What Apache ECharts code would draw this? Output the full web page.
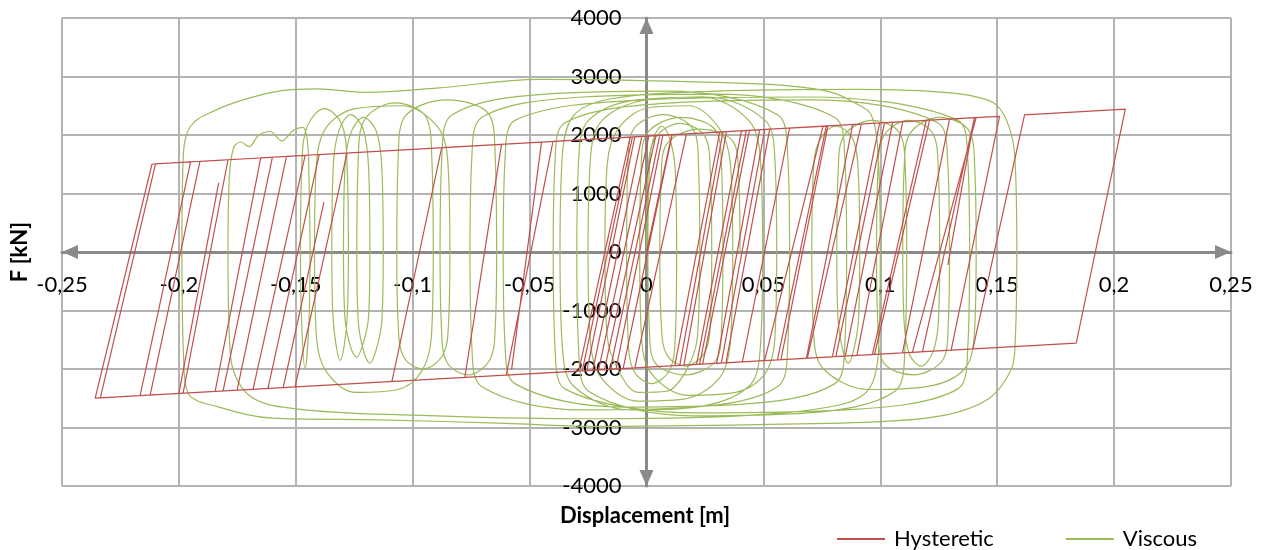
<!DOCTYPE html>
<html>
<head>
<meta charset="utf-8">
<script src="https://cdn.jsdelivr.net/npm/echarts@6/dist/echarts.min.js"></script>
<style>
  html, body { margin: 0; padding: 0; background: #ffffff; }
  #chart { width: 1266px; height: 550px; }
</style>
</head>
<body>
<div id="chart"></div>
<script>
// Axis ranges and tick spacing
const xMin = -0.25, xMax = 0.25, xStep = 0.05;
const yMin = -4000, yMax = 4000, yStep = 1000;

// Legend / series names
const seriesNames = ['Hysteretic', 'Viscous'];

// Hysteretic (bilinear) force-displacement path, [displacement m, force kN]
const hysteretic = [
  [0, 0], [0.0108, 2004],
  [0.0171, 2018], [-0.0050, -1981],
  [-0.0275, -2032], [-0.0060, 1967],
  [0.0110, 2005], [-0.0100, -1992],
  [-0.0255, -2027], [-0.0050, 1969],
  [0.0070, 1996], [-0.0130, -1999],
  [-0.0230, -2022], [-0.0020, 1976],
  [0.0057, 1993], [-0.0155, -2005],
  [-0.0205, -2016], [0.0010, 1982],
  [0.0040, 1989], [-0.0180, -2010],
  [0.0040, 1989],
  [0.0313, 2050], [0.0121, -1943],
  [0.0142, -1938], [0.0327, 2054],
  [0.0342, 2057], [0.0160, -1934],
  [0.0214, -1922], [0.0406, 2071],
  [0.0427, 2076], [0.0227, -1919],
  [0.0240, -1916], [0.0440, 2079],
  [0.0484, 2089], [0.0300, -1903],
  [0.0320, -1898], [0.0506, 2094],
  [0.0527, 2099], [0.0340, -1894],
  [0.0410, -1878], [0.0612, 2118],
  [0.0769, 2153], [0.0560, -1845],
  [0.0505, -1857], [0.0755, 2150],
  [0.0776, 2155], [0.0575, -1841],
  [0.0684, -1817], [0.0882, 2178],
  [0.0919, 2187], [0.0688, -1816],
  [0.0795, -1792], [0.0997, 2204],
  [0.1018, 2209], [0.0810, -1789],
  [0.0850, -1780], [0.1053, 2217],
  [0.1096, 2227], [0.0900, -1768],
  [0.0966, -1754], [0.1197, 2249],
  [0.1211, 2253], [0.0975, -1752],
  [0.1095, -1725], [0.1296, 2272],
  [0.1410, 2297], [0.1137, -1715],
  [0.1180, -1706], [0.1403, 2296],
  [0.1510, 2320], [0.1303, -1678],
  [0.1396, -1657], [0.1617, 2344],
  [0.2048, 2441], [0.1838, -1558],
  [-0.2358, -2498], [-0.2115, 1504],
  [-0.1950, 1541], [-0.2166, -2455],
  [-0.2336, -2493], [-0.2100, 1508],
  [-0.1790, 1577], [-0.1982, -2414],
  [-0.2000, -2418], [-0.1830, 1180], [-0.2000, -2418],
  [-0.2123, -2446], [-0.1910, 1550],
  [-0.1600, 1620], [-0.1811, -2376],
  [-0.1845, -2383], [-0.1650, 1609],
  [-0.1460, 1652], [-0.1683, -2347],
  [-0.1751, -2362], [-0.1540, 1634],
  [-0.1281, 1692], [-0.1503, -2307],
  [-0.1554, -2318], [-0.1380, 850], [-0.1554, -2318],
  [-0.1619, -2333], [-0.1400, 1665],
  [-0.0620, 1841], [-0.0777, -2144],
  [-0.1089, -2214], [-0.0876, 1783],
  [-0.0449, 1879], [-0.0577, -2012], [-0.0449, 1879],
  [-0.0070, 1964], [-0.0290, -2035],
  [-0.0600, -2104], [-0.0400, 1890],
  [0.1403, 2296], [0.1289, -219]
];

// Viscous damper force-displacement path, [displacement m, force kN]
const viscous = [
  [0, 0],
  [0.0006, 1400], [0.0030, 1940], [0.0065, 2150], [0.0099, 1940], [0.0123, 1400], [0.0129, 0],
  [0.0123, -1460], [0.0099, -2020], [0.0022, -2250], [-0.0055, -2030], [-0.0079, -1460], [-0.0085, 0],
  [-0.0079, 1530], [-0.0055, 2100], [0.0072, 2350], [0.0198, 2110], [0.0222, 1530], [0.0228, 0],
  [0.0218, -1440], [0.0168, -2040], [0.0086, -2380], [-0.0036, -2400], [-0.0118, -2040], [-0.0168, -1440], [-0.0178, 0],
  [-0.0168, 1500], [-0.0118, 2125], [0.0013, 2470], [0.0178, 2500], [0.0309, 2125], [0.0359, 1500], [0.0369, 0],
  [0.0359, -1530], [0.0309, -2170], [0.0152, -2520], [-0.0033, -2550], [-0.0190, -2170], [-0.0240, -1530], [-0.0250, 0],
  [-0.0240, 1590], [-0.0190, 2250], [0.0011, 2610], [0.0236, 2650], [0.0437, 2250], [0.0487, 1590], [0.0497, 0],
  [0.0487, -1620], [0.0437, -2300], [0.0194, -2660], [-0.0067, -2700], [-0.0310, -2300], [-0.0360, -1620], [-0.0370, 0],
  [-0.0360, 1650], [-0.0310, 2340], [-0.0150, 2620], [0.0300, 2750], [0.0900, 2780], [0.1300, 2720], [0.1480, 2560], [0.1540, 2250], [0.1575, 1650], [0.1584, 0],
  [0.1575, -1700], [0.1557, -2040], [0.1467, -2500], [0.1288, -2780], [0.1019, -2895], [0.0479, -2950], [-0.0241, -2980], [-0.0601, -2930], [-0.1140, -2870], [-0.1600, -2840], [-0.1838, -2640], [-0.1960, -2420], [-0.1980, -1800], [-0.1987, 0],
  [-0.1982, 1570], [-0.1950, 2150], [-0.1840, 2430], [-0.1700, 2630], [-0.1560, 2760], [-0.1410, 2790], [-0.1200, 2730], [-0.0900, 2800], [-0.0460, 2950], [-0.0060, 2935], [0.0480, 2875], [0.0660, 2820], [0.0800, 2720], [0.0890, 2550], [0.0960, 2350], [0.0990, 1700], [0.1000, 0],
  [0.0992, -1700], [0.0950, -2350], [0.0820, -2620], [0.0400, -2800], [-0.0300, -2850], [-0.1000, -2790], [-0.1500, -2680], [-0.1700, -2450], [-0.1780, -1750], [-0.1790, 0],
  [-0.1784, 1300], [-0.1765, 1790], [-0.1735, 1880], [-0.1700, 1800], [-0.1660, 1990], [-0.1610, 2060], [-0.1560, 1900], [-0.1510, 2080], [-0.1470, 2130], [-0.1449, 1850], [-0.1444, 1300], [-0.1439, 0],
  [-0.1444, -1200], [-0.1460, -2000], [-0.1475, -1200], [-0.1480, 0],
  [-0.1474, 1520], [-0.1450, 2160], [-0.1378, 2450], [-0.1305, 2200], [-0.1281, 1520], [-0.1275, 0],
  [-0.1280, -1110], [-0.1310, -1850], [-0.1341, -1110], [-0.1346, 0],
  [-0.1340, 1460], [-0.1316, 2070], [-0.1265, 2350], [-0.1213, 2110], [-0.1189, 1460], [-0.1183, 0],
  [-0.1189, -1120], [-0.1213, -1580], [-0.1240, -1800], [-0.1266, -1620], [-0.1290, -1120], [-0.1296, 0],
  [-0.1290, 1430], [-0.1266, 2020], [-0.1211, 2300], [-0.1156, 2070], [-0.1132, 1430], [-0.1126, 0],
  [-0.1132, -1180], [-0.1156, -1670], [-0.1183, -1900], [-0.1209, -1710], [-0.1233, -1180], [-0.1239, 0],
  [-0.1233, 1580], [-0.1209, 2240], [-0.1076, 2550], [-0.0942, 2300], [-0.0918, 1580], [-0.0912, 0],
  [-0.0920, -1440], [-0.0962, -2040], [-0.1064, -2350], [-0.1242, -2400], [-0.1370, -2040], [-0.1412, -1440], [-0.1420, 0],
  [-0.1412, 1500], [-0.1370, 2125], [-0.1246, 2450], [-0.1044, 2500], [-0.0891, 2125], [-0.0849, 1500], [-0.0841, 0],
  [-0.0847, -1240], [-0.0871, -1760], [-0.0955, -2000], [-0.1038, -1800], [-0.1062, -1240], [-0.1068, 0],
  [-0.1062, 1610], [-0.1038, 2290], [-0.0855, 2600], [-0.0671, 2340], [-0.0647, 1610], [-0.0641, 0],
  [-0.0647, -1300], [-0.0671, -1850], [-0.0762, -2100], [-0.0853, -1890], [-0.0877, -1300], [-0.0883, 0],
  [-0.0875, 1650], [-0.0833, 2340], [-0.0434, 2700], [0.0089, 2750], [0.0562, 2340], [0.0604, 1650], [0.0612, 0],
  [0.0604, -1620], [0.0562, -2300], [0.0202, -2650], [-0.0277, -2700], [-0.0705, -2300], [-0.0747, -1620], [-0.0755, 0],
  [-0.0747, 1620], [-0.0705, 2300], [-0.0272, 2650], [0.0292, 2700], [0.0806, 2300], [0.0848, 1620], [0.0856, 0],
  [0.0848, -1590], [0.0806, -2250], [0.0415, -2600], [-0.0099, -2650], [-0.0563, -2250], [-0.0605, -1590], [-0.0613, 0],
  [-0.0605, 1590], [-0.0563, 2250], [-0.0014, 2600], [0.0684, 2650], [0.1332, 2250], [0.1374, 1590], [0.1382, 0],
  [0.1374, -1650], [0.1332, -2340], [0.0848, -2700], [0.0224, -2750], [-0.0349, -2340], [-0.0391, -1650], [-0.0399, 0],
  [-0.0391, 1560], [-0.0349, 2210], [0.0110, 2550], [0.0703, 2600], [0.1246, 2210], [0.1288, 1560], [0.1296, 0],
  [0.1290, -1300], [0.1266, -1850], [0.1140, -2100], [0.1014, -1890], [0.0990, -1300], [0.0984, 0],
  [0.0990, 1400], [0.1014, 1980], [0.1119, 2250], [0.1224, 2030], [0.1248, 1400], [0.1254, 0],
  [0.1248, -1210], [0.1224, -1720], [0.1175, -1950], [0.1126, -1760], [0.1102, -1210], [0.1096, 0],
  [0.1102, 1430], [0.1126, 2020], [0.1253, 2300], [0.1380, 2070], [0.1404, 1430], [0.1410, 0],
  [0.1402, -1410], [0.1360, -2000], [0.1199, -2300], [0.0953, -2350], [0.0757, -2000], [0.0715, -1410], [0.0707, 0],
  [0.0713, 1330], [0.0737, 1890], [0.0810, 2150], [0.0882, 1940], [0.0906, 1330], [0.0912, 0],
  [0.0907, -1140], [0.0863, -1900], [0.0819, -1140], [0.0814, 0],
  [0.0820, 1400], [0.0844, 1980], [0.0964, 2250], [0.1083, 2030], [0.1107, 1400], [0.1113, 0],
  [0.1105, -1680], [0.1063, -2380], [0.0690, -2750], [0.0196, -2800], [-0.0248, -2380], [-0.0290, -1680], [-0.0298, 0],
  [-0.0290, 1590], [-0.0248, 2250], [-0.0041, 2600], [0.0258, 2650], [0.0507, 2250], [0.0549, 1590], [0.0557, 0],
  [0.0549, -1470], [0.0507, -2080], [0.0381, -2400], [0.0176, -2450], [0.0021, -2080], [-0.0021, -1470], [-0.0029, 0],
  [-0.0023, 1430], [0.0001, 2020], [0.0149, 2300], [0.0297, 2070], [0.0321, 1430], [0.0327, 0],
  [0.0321, -1300], [0.0297, -1850], [0.0167, -2100], [0.0036, -1890], [0.0012, -1300], [0.0006, 0],
  [0.0012, 1360], [0.0036, 1940], [0.0143, 2200], [0.0249, 1980], [0.0273, 1360], [0.0279, 0],
  [0.0273, -1210], [0.0249, -1720], [0.0168, -1950], [0.0087, -1760], [0.0063, -1210], [0.0057, 0],
  [0.0063, 1300], [0.0087, 1850], [0.0229, 2100], [0.0370, 1890], [0.0394, 1300], [0.0400, 0]
];

const fontFamily = 'Lato, "Liberation Sans", sans-serif';
const gridColor = '#b3b3b3';
const axisColor = '#8a8a8a';
const redColor = '#c0504d';
const greenColor = '#9bbb59';

// Plot rectangle (pixels)
const plotLeft = 62, plotRight = 35, plotTop = 18, plotBottom = 64;
const plotW = 1266 - plotLeft - plotRight;
const plotH = 550 - plotTop - plotBottom;

const chart = echarts.init(document.getElementById('chart'), null, { renderer: 'canvas' });

const axisLineStyle = {
  show: true,
  onZero: false,
  symbol: ['triangle', 'triangle'],
  symbolSize: [14, 16],
  symbolOffset: [8, -8],
  lineStyle: { color: axisColor, width: 3 }
};

chart.setOption({
  animation: false,
  backgroundColor: '#ffffff',
  grid: {
    left: plotLeft, right: plotRight, top: plotTop, bottom: plotBottom,
    containLabel: false, outerBoundsMode: 'none'
  },
  xAxis: {
    type: 'value',
    position: 'bottom',
    // the axis (with its labels) crosses the plot at F = 0
    offset: -plotH / 2,
    min: xMin, max: xMax, interval: xStep,
    axisLine: axisLineStyle,
    axisTick: { show: false },
    axisLabel: {
      margin: 22,
      fontSize: 22,
      fontFamily: fontFamily,
      color: '#000000',
      formatter: v => String(Math.round(v * 100) / 100).replace('.', ',')
    },
    splitLine: { show: true, lineStyle: { color: gridColor, width: 2 } }
  },
  yAxis: {
    type: 'value',
    position: 'left',
    // the axis (with its labels) crosses the plot at displacement = 0
    offset: -plotW / 2,
    min: yMin, max: yMax, interval: yStep,
    axisLine: axisLineStyle,
    axisTick: { show: false },
    axisLabel: {
      margin: 25,
      fontSize: 22,
      fontFamily: fontFamily,
      color: '#000000',
      formatter: v => String(v)
    },
    splitLine: { show: true, lineStyle: { color: gridColor, width: 2 } }
  },
  legend: {
    data: seriesNames,
    left: 832,
    top: 523,
    icon: 'rect',
    itemWidth: 48,
    itemHeight: 2,
    itemGap: 72,
    textStyle: { fontSize: 22, fontFamily: fontFamily, color: '#000000', padding: [0, 0, 0, 4] }
  },
  graphic: [
    {
      type: 'text', x: 645, y: 516,
      style: {
        text: 'Displacement [m]', font: 'bold 22px ' + fontFamily, fill: '#000000',
        textAlign: 'center', textVerticalAlign: 'middle', verticalAlign: 'middle'
      }
    },
    {
      type: 'text', x: 20, y: 252, rotation: Math.PI / 2,
      style: {
        text: 'F [kN]', font: 'bold 22px ' + fontFamily, fill: '#000000',
        textAlign: 'center', textVerticalAlign: 'middle', verticalAlign: 'middle'
      }
    }
  ],
  series: [
    {
      name: 'Viscous',
      type: 'line',
      data: viscous,
      symbol: 'none',
      smooth: 0.35,
      lineStyle: { color: greenColor, width: 1.2 },
      itemStyle: { color: greenColor },
      z: 2
    },
    {
      name: 'Hysteretic',
      type: 'line',
      data: hysteretic,
      symbol: 'none',
      smooth: false,
      lineStyle: { color: redColor, width: 1.2 },
      itemStyle: { color: redColor },
      z: 3
    }
  ]
});
</script>
</body>
</html>
